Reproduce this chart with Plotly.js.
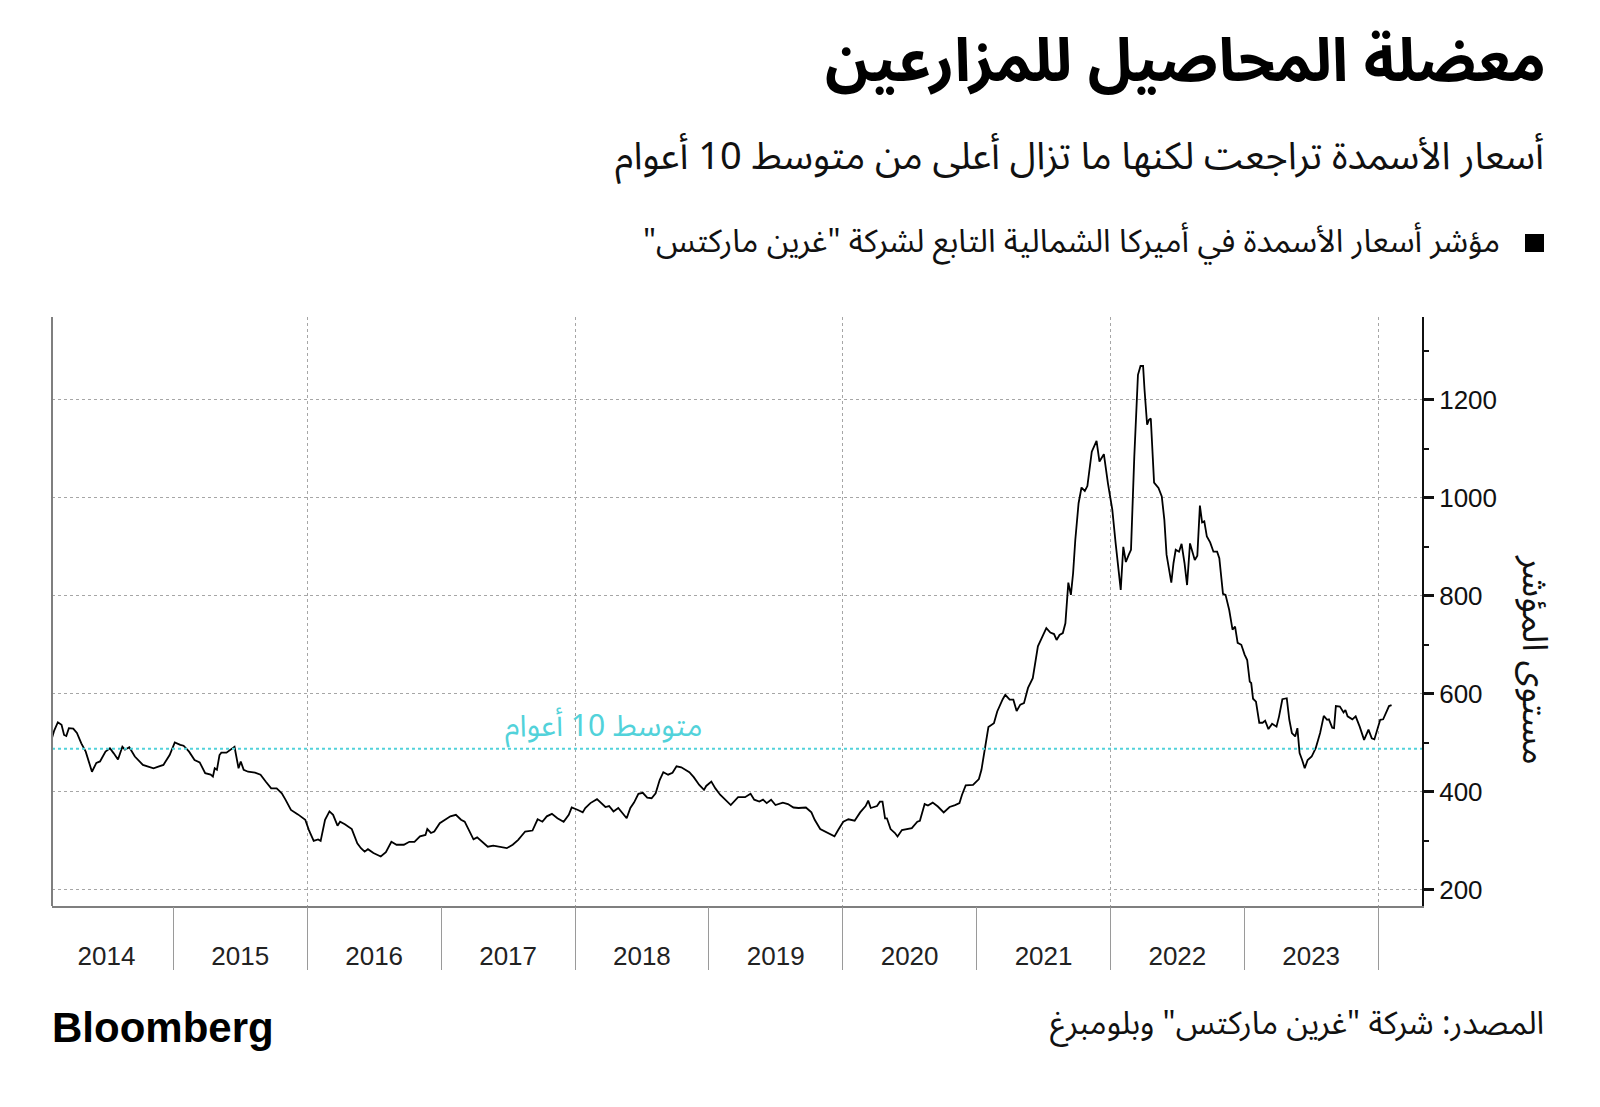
<!DOCTYPE html>
<html>
<head>
<meta charset="utf-8">
<script src="https://cdn.plot.ly/plotly-3.0.1.min.js"></script>
<style>html,body{margin:0;padding:0;background:#fff;}#chart{width:1600px;height:1107px;}</style>
</head>
<body>
<div id="chart"></div>
<script>
// ---- Data ----
const dates = [
"2014-02-04","2014-02-10","2014-02-20","2014-03-02","2014-03-09","2014-03-15","2014-03-22","2014-04-03","2014-04-13","2014-04-25",
"2014-05-07","2014-05-24","2014-06-05","2014-06-15","2014-06-30","2014-07-12","2014-07-22","2014-08-03","2014-08-15","2014-08-22",
"2014-09-03","2014-09-18","2014-10-10","2014-10-24","2014-11-08","2014-11-23","2014-12-05","2014-12-22",
"2015-01-05","2015-01-20","2015-01-29","2015-02-13","2015-02-28","2015-03-14","2015-03-29","2015-04-13","2015-04-19","2015-04-24",
"2015-04-30","2015-05-07","2015-05-12","2015-05-26","2015-06-05","2015-06-17","2015-06-28","2015-07-04","2015-07-12","2015-07-24",
"2015-08-12","2015-08-27","2015-09-10","2015-09-25","2015-10-10","2015-10-24","2015-11-03","2015-11-18","2015-12-07","2015-12-27",
"2016-01-06","2016-01-19","2016-01-31","2016-02-07","2016-02-19","2016-03-02","2016-03-12","2016-03-24","2016-03-31","2016-04-13",
"2016-05-02","2016-05-17","2016-05-27","2016-06-06","2016-06-15","2016-06-30","2016-07-20","2016-08-03","2016-08-18","2016-09-01",
"2016-09-21","2016-10-06","2016-10-20","2016-11-04","2016-11-19","2016-11-24","2016-12-04","2016-12-13","2016-12-28",
"2017-01-11","2017-01-26","2017-02-10","2017-02-24","2017-03-06","2017-03-20","2017-03-30","2017-04-09","2017-04-23","2017-05-08",
"2017-05-23","2017-06-11","2017-06-29","2017-07-15","2017-07-30","2017-08-18","2017-09-07","2017-09-21","2017-10-04","2017-10-16",
"2017-10-30","2017-11-14","2017-11-21","2017-12-01","2017-12-15","2017-12-23",
"2018-01-09","2018-01-22","2018-01-29","2018-02-12","2018-03-02","2018-03-13","2018-03-25","2018-04-04","2018-04-16","2018-04-29",
"2018-05-10","2018-05-22","2018-06-01","2018-06-11","2018-06-23","2018-07-05","2018-07-17","2018-07-29","2018-08-09","2018-08-20",
"2018-08-30","2018-09-12","2018-09-24","2018-10-05","2018-10-18","2018-10-28","2018-11-09","2018-11-21","2018-12-06","2018-12-19","2018-12-25",
"2019-01-08","2019-01-19","2019-02-01","2019-02-16","2019-03-02","2019-03-22","2019-04-10","2019-04-25","2019-05-05","2019-05-19",
"2019-05-29","2019-06-08","2019-06-20","2019-07-02","2019-07-22","2019-08-05","2019-08-20","2019-09-03","2019-09-23","2019-10-08",
"2019-10-17","2019-11-01","2019-11-15","2019-11-30","2019-12-10","2019-12-20",
"2020-01-03","2020-01-17","2020-02-03","2020-02-18","2020-03-04","2020-03-11","2020-03-18","2020-04-04","2020-04-12","2020-04-19",
"2020-04-26","2020-05-01","2020-05-11","2020-05-23","2020-05-30","2020-06-11","2020-06-27","2020-07-08","2020-07-23","2020-07-30",
"2020-08-12","2020-08-21","2020-09-03","2020-09-17","2020-10-03","2020-10-19","2020-11-03","2020-11-15","2020-11-22","2020-12-02","2020-12-22",
"2021-01-07","2021-01-14","2021-01-23","2021-02-02","2021-02-17","2021-02-26","2021-03-13","2021-03-20","2021-04-01","2021-04-11",
"2021-04-20","2021-04-30","2021-05-10","2021-05-21","2021-06-03","2021-06-17","2021-06-27","2021-07-10","2021-07-21","2021-07-31",
"2021-08-07","2021-08-15","2021-08-24","2021-08-31","2021-09-08","2021-09-15","2021-09-21","2021-09-27","2021-10-06","2021-10-14",
"2021-10-23","2021-10-30","2021-11-11","2021-11-18","2021-11-24","2021-12-02","2021-12-14","2021-12-25",
"2022-01-06","2022-01-15","2022-01-29","2022-02-05","2022-02-12","2022-02-20","2022-02-26","2022-03-07","2022-03-17","2022-03-24",
"2022-03-31","2022-04-04","2022-04-11","2022-04-16","2022-04-21","2022-04-30","2022-05-12","2022-05-21","2022-05-28","2022-06-03",
"2022-06-09","2022-06-16","2022-06-22","2022-06-28","2022-07-07","2022-07-14","2022-07-22","2022-07-29","2022-08-06","2022-08-19",
"2022-08-26","2022-09-02","2022-09-08","2022-09-14","2022-09-21","2022-09-30","2022-10-09","2022-10-19","2022-10-25","2022-11-04",
"2022-11-11","2022-11-21","2022-11-30","2022-12-07","2022-12-14","2022-12-24",
"2023-01-02","2023-01-09","2023-01-16","2023-01-20","2023-01-25","2023-02-02","2023-02-11","2023-02-20","2023-02-27","2023-03-08",
"2023-03-18","2023-03-30","2023-04-06","2023-04-15","2023-04-27","2023-05-04","2023-05-11","2023-05-20","2023-05-26","2023-06-01",
"2023-06-08","2023-06-15","2023-06-23","2023-07-04","2023-07-15","2023-07-27","2023-08-06","2023-08-15","2023-08-20","2023-08-29",
"2023-09-03","2023-09-08","2023-09-19","2023-09-29","2023-10-04","2023-10-10","2023-10-23","2023-11-01","2023-11-12","2023-11-24",
"2023-12-06","2023-12-15","2023-12-22","2023-12-29",
"2024-01-07","2024-01-15","2024-01-24","2024-01-31","2024-02-07"
];
const indexValues = [
510,525,542,537,516,514,530,529,520,499,
482,441,459,462,482,489,479,466,492,486,
491,472,455,452,448,452,455,475,
501,496,494,482,465,460,438,435,431,448,
445,475,480,480,486,492,448,462,445,441,
439,435,421,407,407,397,384,363,354,343,
322,300,303,300,343,360,353,331,339,334,
324,295,285,278,283,275,268,277,298,292,
292,298,298,309,312,324,316,319,336,
343,350,353,343,339,316,303,307,298,288,
290,288,285,292,302,319,321,344,339,350,
355,346,343,339,353,368,
363,358,367,377,385,378,369,371,360,367,
358,346,367,378,396,398,388,387,397,424,
440,435,439,452,450,445,440,430,414,404,412,
421,407,394,384,373,389,389,396,384,380,
384,377,384,373,378,375,368,367,368,358,
343,324,319,312,309,322,
339,344,341,358,371,382,367,371,380,380,
346,346,324,316,309,322,324,326,339,341,
375,372,378,370,358,369,373,377,394,413,414,
426,445,489,532,540,564,589,598,588,588,
565,578,581,612,632,697,713,734,725,722,
710,720,724,744,827,802,846,914,989,1021,
1014,1024,1094,1106,1116,1074,1089,1030,
976,908,812,900,869,884,894,1084,1251,1269,
1269,1220,1149,1159,1162,1031,1020,1003,955,884,
860,827,867,894,890,906,867,822,907,873,
882,984,950,952,921,909,890,890,877,804,
802,771,731,737,704,700,
680,669,625,622,590,584,541,541,545,528,
539,533,554,589,591,547,520,513,530,479,
465,448,465,472,489,520,555,547,548,531,
530,575,574,562,567,554,548,554,533,506,
527,509,507,527,
547,548,564,575,577
];
const tenYearAverage = 488;
const xRange = ["2014-02-04", "2024-04-30"];
const yRange = [167, 1369];

const titleText = "معضلة المحاصيل للمزارعين";
const subtitleText = "أسعار الأسمدة تراجعت لكنها ما تزال أعلى من متوسط 10 أعوام";
const legendText = "مؤشر أسعار الأسمدة في أميركا الشمالية التابع لشركة \"غرين ماركتس\"";
const averageLabel = "متوسط 10 أعوام";
const yTitleText = "مستوى المؤشر";
const sourceText = "المصدر: شركة \"غرين ماركتس\" وبلومبرغ";
const logoText = "Bloomberg";

// ---- Style ----
const RLM = "\u200F";
const rtl = s => RLM + s + RLM;
const AR = "'Noto Sans Arabic','DejaVu Sans',sans-serif";
const NUM = "'Liberation Sans',Arial,sans-serif";
const CYAN = "#52d2da";
const GRID = "#a6a6a6";

const plotL = 52, plotR = 1422, plotT = 317, plotB = 906, W = 1600, H = 1107;
const pw = plotR - plotL, ph = plotB - plotT;
const px = x => (x - plotL) / pw;
const py = y => (plotB - y) / ph;

const traces = [
  {
    type: "scatter", mode: "lines",
    x: dates, y: indexValues,
    xaxis: "x", yaxis: "y",
    line: {color: "#000", width: 1.8},
    showlegend: false, hoverinfo: "skip"
  },
  {
    type: "scatter", mode: "lines",
    x: xRange, y: [tenYearAverage, tenYearAverage],
    xaxis: "x2", yaxis: "y",
    line: {color: CYAN, width: 2, dash: "dot"},
    showlegend: false, hoverinfo: "skip"
  }
];

const layout = {
  width: W, height: H,
  paper_bgcolor: "#fff", plot_bgcolor: "#fff",
  margin: {l: plotL, r: W - plotR, t: plotT, b: H - plotB, pad: 0},
  showlegend: false,
  title: {
    text: rtl(titleText),
    xref: "container", x: 1546 / W, xanchor: "right",
    yref: "container", y: 1 - 60 / H, yanchor: "middle",
    font: {family: AR, size: 60, weight: "bold", color: "#000"}
  },
  xaxis: {
    type: "date", range: xRange,
    ticklabelmode: "period", dtick: "M12", tick0: "2014-01-01", tickformat: "%Y",
    ticks: "", showgrid: false, zeroline: false,
    showline: true, linecolor: "#7f7f7f", linewidth: 2,
    tickfont: {family: NUM, size: 26, color: "#222"},
    ticklabelstandoff: 26,
    fixedrange: true
  },
  xaxis2: {
    type: "date", range: xRange, overlaying: "x", anchor: "y", side: "bottom",
    dtick: "M24", tick0: "2016-01-01",
    showgrid: true, gridcolor: GRID, griddash: "dot", gridwidth: 1,
    ticks: "outside", ticklen: 63, tickcolor: "#9a9a9a", tickwidth: 1,
    minor: {dtick: "M12", tick0: "2015-01-01", ticks: "outside", ticklen: 63, tickcolor: "#9a9a9a", tickwidth: 1, showgrid: false},
    showticklabels: false, showline: false, zeroline: false,
    fixedrange: true
  },
  yaxis: {
    side: "right", range: yRange,
    tick0: 200, dtick: 200,
    showgrid: true, gridcolor: GRID, griddash: "dot", gridwidth: 1,
    ticks: "outside", ticklen: 10, tickwidth: 3, tickcolor: "#111",
    minor: {dtick: 100, tick0: 100, ticks: "outside", ticklen: 5, tickwidth: 1.5, tickcolor: "#111", showgrid: false},
    showline: true, linecolor: "#111", linewidth: 2,
    zeroline: false,
    tickfont: {family: NUM, size: 26, color: "#111"},
    fixedrange: true
  },
  shapes: [
    {type: "line", xref: "paper", yref: "paper", x0: 0, x1: 0, y0: 0, y1: 1,
     line: {color: "#7f7f7f", width: 2}},
    {type: "rect", xref: "paper", yref: "paper",
     x0: px(1525), x1: px(1544), y0: py(252), y1: py(234),
     fillcolor: "#000", line: {width: 0}}
  ],
  annotations: [
    {text: rtl(subtitleText), xref: "paper", yref: "paper",
     x: px(1546), xanchor: "right", y: py(157), yanchor: "middle", showarrow: false,
     font: {family: AR, size: 38, color: "#111"}},
    {text: rtl(legendText), xref: "paper", yref: "paper",
     x: px(1502), xanchor: "right", y: py(242), yanchor: "middle", showarrow: false,
     font: {family: AR, size: 32, color: "#111"}},
    {text: rtl(averageLabel), xref: "paper", yref: "y",
     x: px(704), xanchor: "right", y: tenYearAverage, yshift: 22, yanchor: "middle", showarrow: false,
     font: {family: AR, size: 30, color: CYAN}},
    {text: rtl(yTitleText), xref: "paper", yref: "paper",
     x: px(1534), xanchor: "center", y: py(660), yanchor: "middle", showarrow: false,
     textangle: 90,
     font: {family: AR, size: 35, color: "#111"}},
    {text: logoText, xref: "paper", yref: "paper",
     x: px(50), xanchor: "left", y: py(1027), yanchor: "middle", showarrow: false,
     font: {family: NUM, size: 42, weight: "bold", color: "#000"}},
    {text: rtl(sourceText), xref: "paper", yref: "paper",
     x: px(1546), xanchor: "right", y: py(1024), yanchor: "middle", showarrow: false,
     font: {family: AR, size: 32, color: "#111"}}
  ]
};

Plotly.newPlot("chart", traces, layout, {staticPlot: true, displayModeBar: false});
</script>
</body>
</html>
